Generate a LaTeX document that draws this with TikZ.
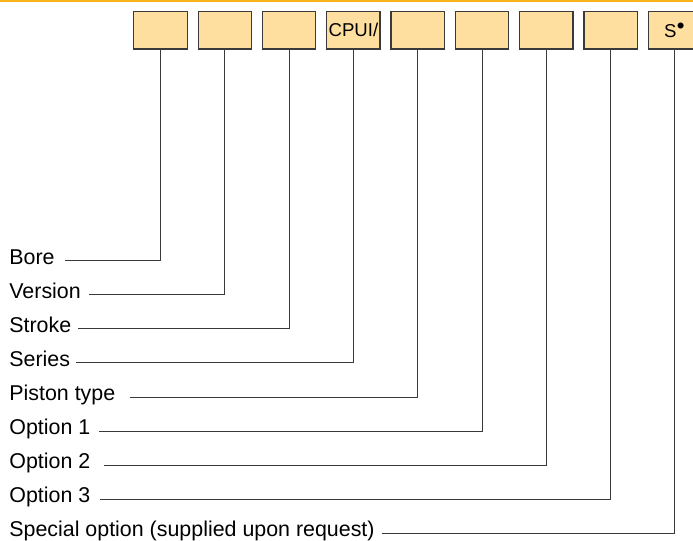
\documentclass[tikz,border=0pt]{standalone}
\usepackage{fontspec}
\setmainfont{Liberation Sans}
\definecolor{barorange}{HTML}{F8B21C}
\definecolor{boxfill}{HTML}{FFDF9F}
\definecolor{linegray}{HTML}{3A3A3A}

\begin{document}
\begin{tikzpicture}[x=0.5pt,y=-0.5pt,
        codebox/.style={draw=linegray,line width=0.6pt,fill=boxfill,minimum width=26.65pt,minimum height=18.8pt,inner sep=0pt,anchor=north west,font=\fontsize{9.3}{11}\selectfont},
        itemtext/.style={anchor=base west,inner sep=0pt,font=\fontsize{10.7}{12}\selectfont},
        leadline/.style={draw=linegray,line width=0.5pt}]
        \useasboundingbox (0,0) rectangle (693,541);
        \fill[barorange] (0,0) rectangle (693,2.4);
        % code boxes
        \foreach \i/\t in {1/,2/,3/,4/{CPUI/},5/,6/,7/,8/,9/{S$^{\bullet}$}}
            \node[codebox] (b\i) at ({133.3+64.3*(\i-1)},10.7) {\t};
        % labels and leaders
        \foreach \i/\t/\s in {1/Bore/65,2/Version/89.3,3/Stroke/78.3,4/Series/76,5/{Piston type}/130,6/{Option 1}/99,7/{Option 2}/104.3,8/{Option 3}/100,9/{Special option (supplied upon request)}/381.7}
        {
            \node[itemtext] (l\i) at (9,{264+34.08*(\i-1)}) {\t};
            \coordinate (s\i) at (\s,{260.7+34.08*(\i-1)});
            \draw[leadline] (s\i) -| (b\i.south);
        }
    \end{tikzpicture}
\end{document}
